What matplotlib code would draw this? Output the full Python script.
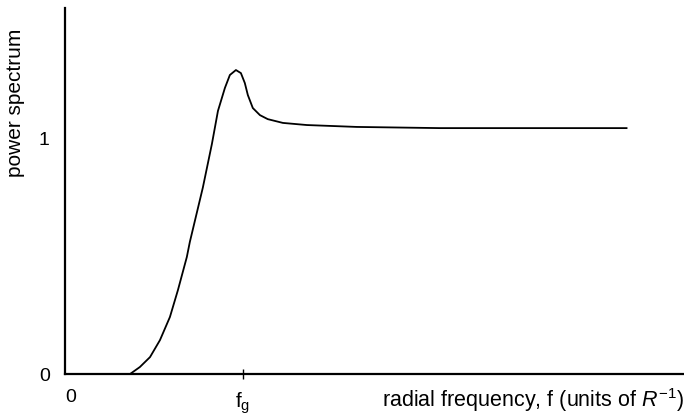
import numpy as np
import matplotlib
matplotlib.use('Agg')
import matplotlib.pyplot as plt

plt.rcParams['font.family'] = ['Liberation Sans', 'DejaVu Sans']
plt.rcParams['mathtext.fontset'] = 'custom'
plt.rcParams['mathtext.rm'] = 'Liberation Sans'
plt.rcParams['mathtext.it'] = 'Liberation Sans:italic'

# radial frequency in units of f_g, power spectrum
freq = [0.365, 0.421, 0.478, 0.534, 0.590, 0.635, 0.685, 0.702, 0.775, 0.826,
        0.860, 0.899, 0.927, 0.961, 0.989, 1.011, 1.028, 1.056, 1.096, 1.140,
        1.225, 1.360, 1.640, 2.107, 2.669, 3.157]
power = [0.0, 0.030, 0.072, 0.144, 0.242, 0.356, 0.496, 0.560, 0.790, 0.975,
         1.115, 1.212, 1.267, 1.288, 1.275, 1.233, 1.182, 1.127, 1.097, 1.080,
         1.064, 1.055, 1.047, 1.042, 1.042, 1.042]

fig = plt.figure(figsize=(6.84, 4.18), dpi=100)
ax = fig.add_axes([0.095, 0.105, 0.905, 0.876])
ax.plot(freq, power, color='black', linewidth=1.3, solid_joinstyle='round')

ax.set_xlim(0, 3.48)
ax.set_ylim(0, 1.551)
for s in ['top', 'right']:
    ax.spines[s].set_visible(False)
ax.spines['left'].set_linewidth(1.6)
ax.spines['bottom'].set_linewidth(1.6)

ax.set_yticks([0, 1])
ax.set_yticklabels(['0', '1'], fontsize=14)
ax.tick_params(axis='y', length=0, pad=11)
ax.set_xticks([1])
ax.set_xticklabels([r'$\mathrm{f_g}$'], fontsize=15)
ax.tick_params(axis='x', direction='inout', length=7, width=1, pad=8)

ax.text(0.0, -0.1, '0', fontsize=14, ha='left', va='center')
ax.text(3.48, -0.11, r'radial frequency, f (units of $\mathit{R}^{\mathit{-1}}$)',
        fontsize=15.5, ha='right', va='center')
ax.set_ylabel('power spectrum', fontsize=15)
ax.yaxis.set_label_coords(-0.065, 0.74)

fig.savefig('out.png', dpi=100)
